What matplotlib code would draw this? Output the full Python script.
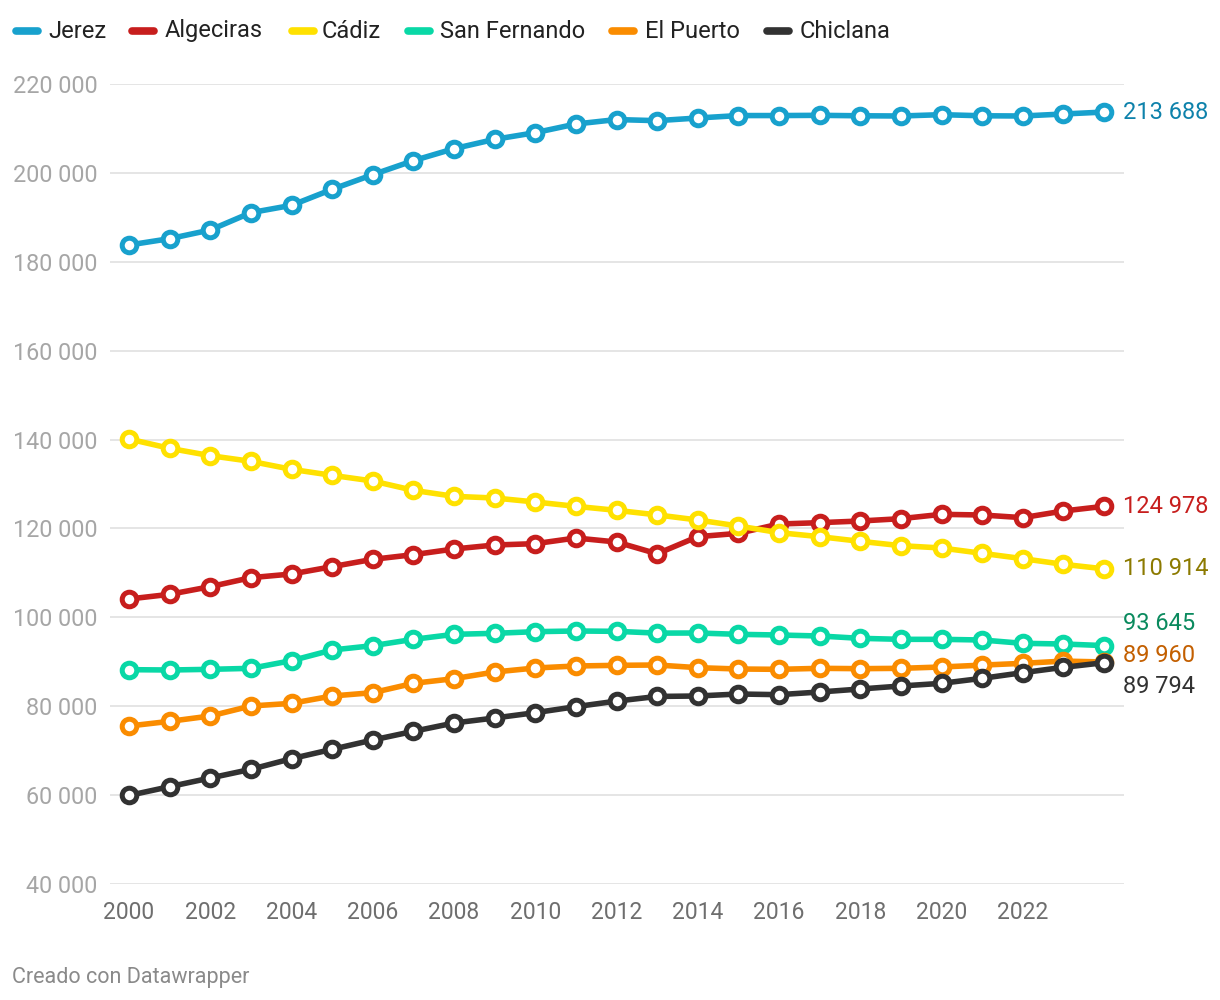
import matplotlib
matplotlib.use("Agg")
import matplotlib.pyplot as plt
from matplotlib.lines import Line2D

plt.rcParams['font.family'] = ['Roboto', 'DejaVu Sans']

years = list(range(2000, 2025))

jerez = [183775, 185200, 187150, 191050, 192700, 196300, 199600, 202750, 205450, 207550,
         209050, 211000, 212000, 211750, 212350, 212900, 212900, 212950, 212850, 212800,
         213100, 212850, 212800, 213250, 213688]
algeciras = [104125, 105175, 106900, 108925, 109750, 111400, 113050, 114100, 115375, 116275,
             116575, 117850, 116950, 114300, 118150, 118900, 121000, 121300, 121675, 122200,
             123175, 123025, 122425, 123925, 124978]
cadiz = [140125, 138025, 136375, 135100, 133300, 131950, 130675, 128575, 127225, 126850,
         125950, 124975, 124075, 123050, 121900, 120550, 119050, 118150, 117100, 116125,
         115600, 114400, 113200, 111925, 110914]
san_fernando = [88225, 88150, 88300, 88525, 90250, 92650, 93625, 95050, 96175, 96400,
                96775, 96925, 96850, 96450, 96475, 96175, 96025, 95800, 95275, 95050,
                95050, 94900, 94150, 94000, 93645]
el_puerto = [75550, 76600, 77800, 80050, 80650, 82300, 83050, 85150, 86200, 87700,
             88600, 89050, 89200, 89275, 88675, 88375, 88300, 88525, 88450, 88525,
             88825, 89250, 89650, 90150, 89960]
chiclana = [59925, 61900, 63850, 65800, 68200, 70300, 72400, 74350, 76225, 77350,
            78550, 79900, 81150, 82200, 82300, 82750, 82600, 83200, 83875, 84550,
            85150, 86275, 87550, 88750, 89794]

names = ["Jerez", "Algeciras", "Cádiz", "San Fernando", "El Puerto", "Chiclana"]
series = [jerez, algeciras, cadiz, san_fernando, el_puerto, chiclana]
colors = ["#18a1cd", "#c71e1d", "#ffe100", "#09d8a6", "#fa8c00", "#323232"]
label_colors = ["#0e82ab", "#c71e1d", "#8c7a00", "#0a8a5e", "#c35f00", "#323232"]
label_texts = ["213 688", "124 978", "110 914", "93 645", "89 960", "89 794"]
label_y = [213688, 124978, 110914, 93645, 89960, 89794]
label_dy_px = [0, 0, 0, -22, -6, 24]

yticks = [40000, 60000, 80000, 100000, 120000, 140000, 160000, 180000, 200000, 220000]
ytick_labels = ["40 000", "60 000", "80 000", "100 000", "120 000", "140 000",
                "160 000", "180 000", "200 000", "220 000"]
xticks = list(range(2000, 2023, 2))
xtick_labels = [str(x) for x in xticks]

W, H = 1220, 1000
fig = plt.figure(figsize=(W / 100, H / 100), dpi=100)
ax = fig.add_axes([110 / W, 1 - 884 / H, 1014 / W, 800 / H])

ax.set_ylim(40000, 220000)
ax.set_xlim(2000 - 19 / 40.625, 2024 + 20 / 40.625)

for s in ax.spines.values():
    s.set_visible(False)
ax.set_yticks(yticks)
ax.set_yticklabels(ytick_labels)
ax.set_xticks(xticks)
ax.set_xticklabels(xtick_labels)
ax.tick_params(axis='y', length=0, pad=9, labelsize=16.8, labelcolor="#a6a6a6")
ax.tick_params(axis='x', length=0, pad=12, labelsize=16.5, labelcolor="#6e6e6e")
for yv in yticks:
    ax.axhline(yv, color="#e3e3e3", lw=1.3, zorder=0)

for i, (vals, col) in enumerate(zip(series, colors)):
    ax.plot(years, vals, color=col, lw=4.0, marker='o', markersize=10.5,
            markerfacecolor='white', markeredgecolor=col, markeredgewidth=3.6,
            solid_capstyle='round', solid_joinstyle='round', clip_on=False, zorder=2 + i)

for txt, yv, col, dy in zip(label_texts, label_y, label_colors, label_dy_px):
    ax.annotate(txt, xy=(years[-1], yv), xytext=(14, -dy * 0.72), textcoords='offset points',
                ha='left', va='center', fontsize=17, color=col, annotation_clip=False)

# legend
leg_line_x = [12, 128, 288, 404, 608, 763]
leg_text_x = [48, 165, 322, 440, 645, 800]
leg_y = 1 - 31 / H
for lx, tx, name, col in zip(leg_line_x, leg_text_x, names, colors):
    fig.add_artist(Line2D([(lx + 4) / W, (lx + 26) / W], [leg_y, leg_y], color=col, lw=5.5,
                          solid_capstyle='round', transform=fig.transFigure))
    fig.text(tx / W, leg_y, name, ha='left', va='center', fontsize=17, color="#222222")

fig.text(12 / W, 1 - 977 / H, "Creado con Datawrapper", ha='left', va='center',
         fontsize=15.5, color="#8a8a8a")

fig.savefig("out.png", dpi=100, facecolor="white")
